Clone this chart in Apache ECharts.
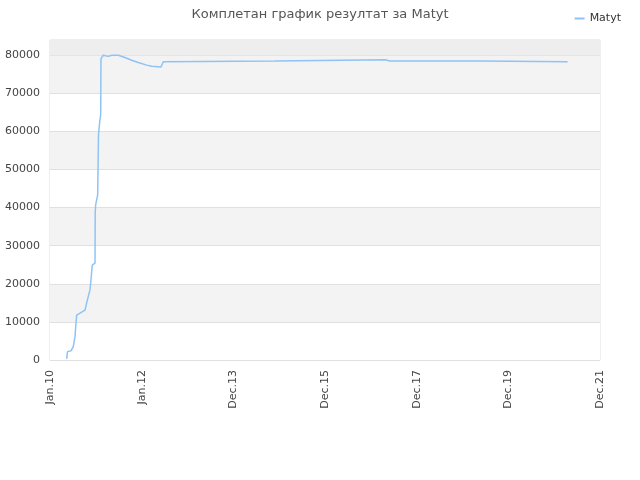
<!DOCTYPE html>
<html>
<head>
<meta charset="utf-8">
<script src="https://cdn.jsdelivr.net/npm/echarts@6/dist/echarts.min.js"></script>
<style>html,body{margin:0;padding:0;background:#fff}#c{width:640px;height:480px}</style>
</head>
<body>
<div id="c"></div>
<script>
var tickLabels = ['Jan.10', 'Jan.12', 'Dec.13', 'Dec.15', 'Dec.17', 'Dec.19', 'Dec.21'];
var seriesName = 'Matyt';
var xPos = [0.182, 0.191, 0.229, 0.254, 0.273, 0.278, 0.291, 0.309, 0.382, 0.400, 0.436, 0.447, 0.461, 0.491, 0.493, 0.498, 0.520, 0.529, 0.542, 0.553, 0.556, 0.581, 0.636, 0.655, 0.673, 0.745, 0.818, 0.891, 0.963, 1.055, 1.109, 1.211, 1.236, 1.255, 2.455, 2.465, 3.654, 3.709, 4.691, 4.702, 5.647];
var scores = [300, 2200, 2400, 3500, 6200, 7900, 11800, 12200, 13100, 15000, 18400, 21000, 24900, 25400, 38500, 40700, 43300, 59000, 62500, 64300, 79100, 80000, 79700, 79400, 80000, 80000, 79400, 78700, 78100, 77400, 77100, 76900, 78300, 78500, 78500, 78800, 78800, 78500, 78500, 78300, 78300];

var data = xPos.map(function (x, i) { return [x, scores[i]]; });
var chart = echarts.init(document.getElementById('c'));
chart.setOption({
  animation: false,
  title: {
    text: 'Комплетан график резултат за ' + seriesName,
    left: 'center', top: 3,
    textStyle: { fontSize: 13, fontWeight: 'normal', color: '#555', fontFamily: 'DejaVu Sans' }
  },
  legend: {
    right: 14, top: 8, itemWidth: 10, itemHeight: 2,
    icon: 'rect',
    textStyle: { fontSize: 11, color: '#333', fontFamily: 'DejaVu Sans' },
    data: [seriesName]
  },
  grid: { left: 50, right: 40, top: 40, bottom: 120, show: true, borderColor: '#ddd', borderWidth: 1, backgroundColor: 'transparent' },
  xAxis: {
    type: 'value', min: 0, max: 6, interval: 1,
    axisLine: { show: false }, axisTick: { show: false },
    splitLine: { show: false },
    axisLabel: {
      rotate: 90, fontSize: 11, color: '#444', fontFamily: 'DejaVu Sans', margin: 10,
      formatter: function (v) { return tickLabels[Math.round(v)] || ''; }
    }
  },
  yAxis: {
    type: 'value', min: 0, max: 84000, interval: 10000,
    axisLine: { show: false }, axisTick: { show: false },
    axisLabel: { fontSize: 11, color: '#444', fontFamily: 'DejaVu Sans', showMaxLabel: false, margin: 10,
      formatter: function (v) { return String(v); } },
    splitLine: { lineStyle: { color: '#e0e0e0' } },
    splitArea: { show: true, areaStyle: { color: ['#ffffff', '#f3f3f3'] } }
  },
  series: [{
    name: seriesName, type: 'line', data: data, showSymbol: false,
    lineStyle: { color: '#8fc3f5', width: 1.5 },
    itemStyle: { color: '#8fc3f5' },
    markArea: {
      silent: true,
      itemStyle: { color: '#eeeeee' },
      data: [[{ yAxis: 80000 }, { yAxis: 84000 }]]
    }
  }]
});
</script>
</body>
</html>
